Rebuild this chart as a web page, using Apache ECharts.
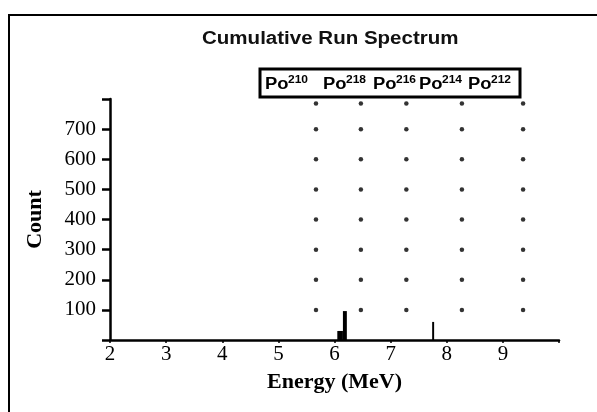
<!DOCTYPE html>
<html>
<head>
<meta charset="utf-8">
<script src="https://cdn.jsdelivr.net/npm/echarts@6/dist/echarts.min.js"></script>
<style>
html,body{margin:0;padding:0;background:#fff;}
#c{width:597px;height:412px;}
</style>
</head>
<body>
<div id="c"></div>
<script>
// ---- data ----
var titleText = 'Cumulative Run Spectrum';
var xName = 'Energy (MeV)';
var yName = 'Count';
var isotopeBase = 'Po';
var isotopeMass = ['210', '218', '216', '214', '212'];
// histogram bins: [energy start, energy end, count]
var binStart = [6.05, 6.15, 7.74];
var binEnd   = [6.15, 6.22, 7.775];
var binCount = [30, 96, 60];
// dotted marker columns
var dotEnergies = [5.67, 6.47, 7.28, 8.27, 9.36];
var dotCounts = [100, 200, 300, 400, 500, 600, 700, 785];
var xMin = 2, xMax = 10, yMin = 0, yMax = 800;

// ---- layout ----
var legendX = [265, 323, 373, 419, 468];

var bins = binStart.map(function (s, i) { return [s, binEnd[i], binCount[i]]; });
var dots = [];
dotEnergies.forEach(function (e) { dotCounts.forEach(function (c) { dots.push([e, c]); }); });

var graphics = [
  { type: 'polyline', silent: true, shape: { points: [[9, 412], [9, 15], [597, 15]] }, style: { stroke: '#000', lineWidth: 2, fill: null } },
  { type: 'text', x: 202, y: 39, scaleX: 1.14, style: { text: titleText, x: 0, y: 0, fill: '#111', font: 'bold 18px "Liberation Sans", Arial, sans-serif', verticalAlign: 'middle', align: 'left' } },
  { type: 'rect', shape: { x: 260, y: 69, width: 260, height: 28 }, style: { stroke: '#000', lineWidth: 3, fill: null } }
];
isotopeMass.forEach(function (m, i) {
  graphics.push({ type: 'text', x: legendX[i], y: 85, scaleX: 1.15, style: { text: isotopeBase, x: 0, y: 0, fill: '#000', font: 'bold 16px "Liberation Sans", Arial, sans-serif', verticalAlign: 'middle' } });
  graphics.push({ type: 'text', x: legendX[i] + 23, y: 80, scaleX: 1.2, style: { text: m, x: 0, y: 0, fill: '#000', font: 'bold 10px "Liberation Sans", Arial, sans-serif', verticalAlign: 'middle' } });
});

var chart = echarts.init(document.getElementById('c'), null, { renderer: 'canvas' });
chart.setOption({
  animation: false,
  backgroundColor: '#fff',
  grid: { left: 110, right: 38, top: 99, bottom: 72 },
  xAxis: {
    type: 'value', min: xMin, max: xMax, interval: 1,
    name: xName, nameLocation: 'middle', nameGap: 31,
    nameTextStyle: { fontFamily: '"Liberation Serif", "Times New Roman", serif', fontWeight: 'bold', fontSize: 22, color: '#000' },
    axisLine: { show: true, lineStyle: { color: '#000', width: 2.5 } },
    axisTick: { show: true, length: 3, lineStyle: { color: '#000', width: 1.5 } },
    axisLabel: { margin: 4, fontFamily: '"Liberation Serif", "Times New Roman", serif', fontSize: 21, color: '#000',
      formatter: function (v) { return v === xMax ? '' : String(v); } },
    splitLine: { show: false }
  },
  yAxis: {
    type: 'value', min: yMin, max: yMax, interval: 100,
    name: yName, nameLocation: 'middle', nameGap: 64, nameRotate: 90,
    nameTextStyle: { fontFamily: '"Liberation Serif", "Times New Roman", serif', fontWeight: 'bold', fontSize: 22, color: '#000' },
    axisLine: { show: true, lineStyle: { color: '#000', width: 2.5 } },
    axisTick: { show: true, length: 8, lineStyle: { color: '#000', width: 2.5 } },
    axisLabel: { margin: 14, fontFamily: '"Liberation Serif", "Times New Roman", serif', fontSize: 21, color: '#000',
      formatter: function (v) { return (v === yMin || v === yMax) ? '' : String(v); } },
    splitLine: { show: false }
  },
  series: [
    {
      type: 'scatter', data: dots, symbol: 'circle', symbolSize: 4.5,
      itemStyle: { color: '#000' }, silent: true
    },
    {
      type: 'custom', data: bins, silent: true,
      renderItem: function (params, api) {
        var p0 = api.coord([api.value(0), api.value(2)]);
        var p1 = api.coord([api.value(1), 0]);
        return { type: 'rect', shape: { x: p0[0], y: p0[1], width: p1[0] - p0[0], height: p1[1] - p0[1] }, style: { fill: '#000' } };
      }
    }
  ],
  graphic: graphics
});
</script>
</body>
</html>
